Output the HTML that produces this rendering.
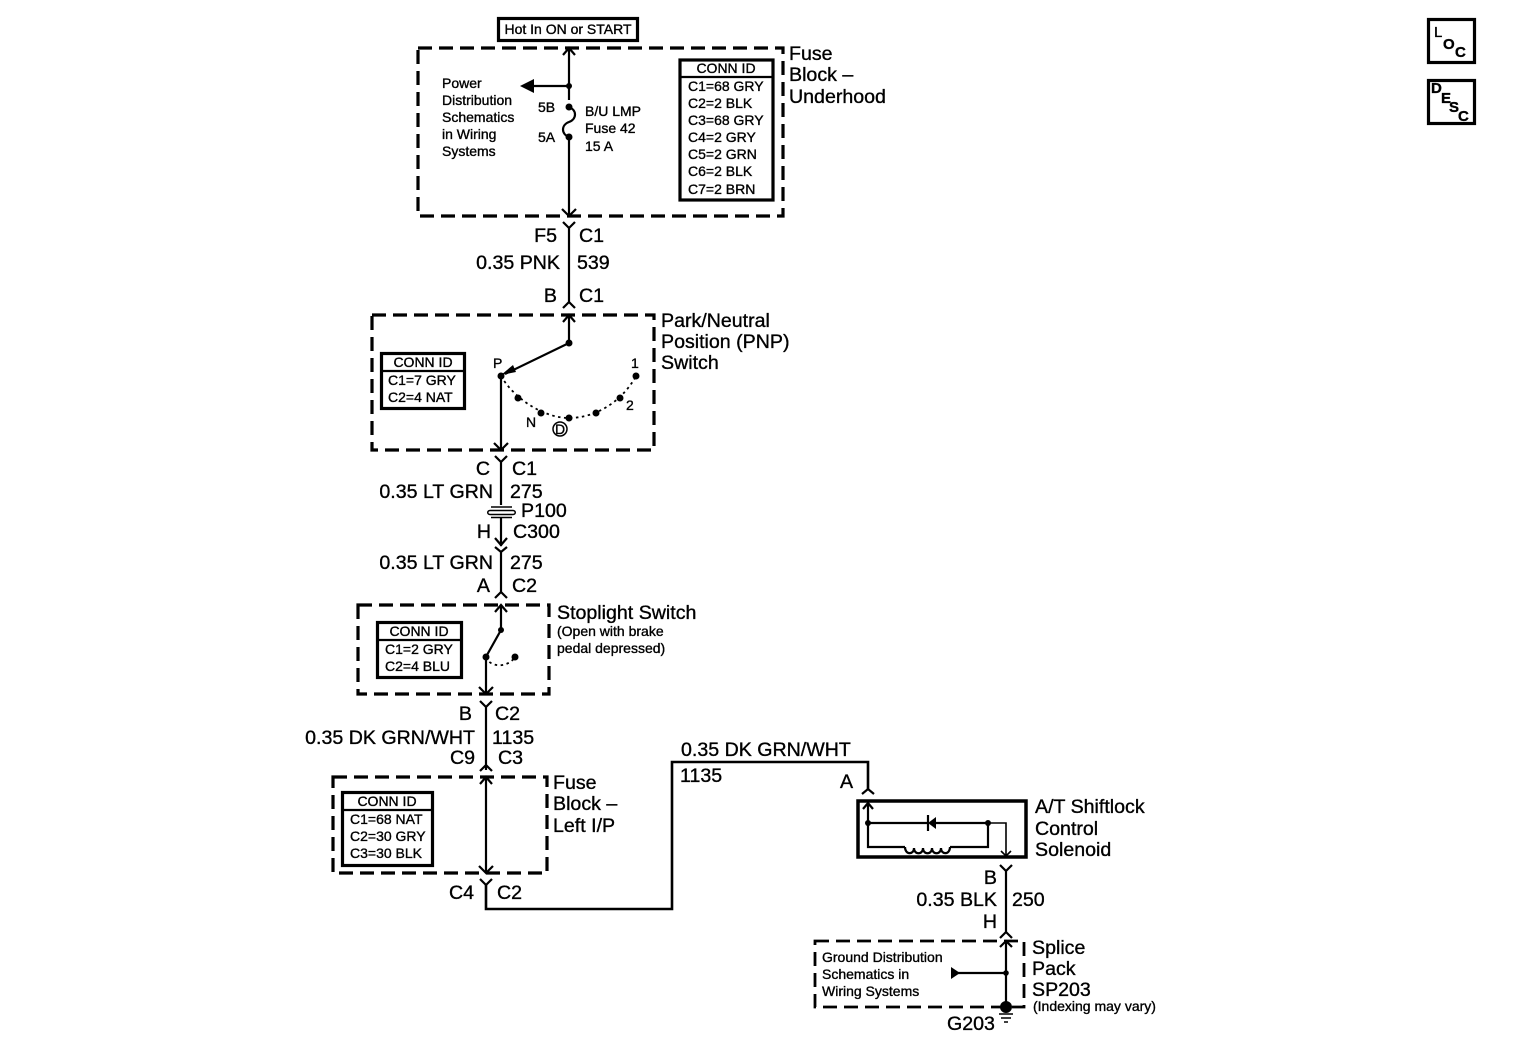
<!DOCTYPE html>
<html><head><meta charset="utf-8"><style>
html,body{margin:0;padding:0;background:#fff}
svg{display:block}
text{font-family:"Liberation Sans",sans-serif;fill:#000;stroke:#000;stroke-width:.35}
.l{font-size:19.6px}.s{font-size:14px}.e{text-anchor:end}.m{text-anchor:middle}
.w{fill:none;stroke:#000;stroke-width:2.2}
.d{fill:none;stroke:#000;stroke-width:3.2;stroke-dasharray:14 7}
.b{fill:none;stroke:#000;stroke-width:3.2}
.o{fill:none;stroke:#000;stroke-width:1.8;stroke-dasharray:2.5 3.5}
</style></head><body>
<svg width="1520" height="1054" viewBox="0 0 1520 1054" xmlns="http://www.w3.org/2000/svg">
<!-- Top -->
<rect class="b" x="498.500" y="18.500" width="139" height="22"/>
<text class="s m" x="568" y="34">Hot In ON or START</text>
<path class="d" d="M418 48H783V216H418Z"/>
<path class="w" d="M569 48V100M569 137V216M563 55L569 48L575 55M562 209L569 216L576 209M569 86H530"/>
<path d="M520 86L534 79V93Z"/>
<path class="w" d="M569 107C577 110 577 119 569 122C561 125 561 134 569 137"/>
<circle cx="569" cy="86" r="3"/><circle cx="569" cy="107" r="3.500"/><circle cx="569" cy="137" r="3.500"/>
<g class="s"><text x="442" y="88">Power</text><text x="442" y="105">Distribution</text><text x="442" y="122">Schematics</text><text x="442" y="139">in Wiring</text><text x="442" y="156">Systems</text>
<text x="538" y="112">5B</text><text x="538" y="142">5A</text>
<text x="585" y="116">B/U LMP</text><text x="585" y="133">Fuse 42</text><text x="585" y="151">15 A</text></g>
<rect class="b" x="680" y="60" width="93" height="140"/><path class="w" d="M680 77H773"/>
<g class="s"><text class="m" x="726" y="73">CONN ID</text><text x="688" y="91">C1=68 GRY</text><text x="688" y="108">C2=2 BLK</text><text x="688" y="125">C3=68 GRY</text><text x="688" y="142">C4=2 GRY</text><text x="688" y="159">C5=2 GRN</text><text x="688" y="176">C6=2 BLK</text><text x="688" y="194">C7=2 BRN</text></g>
<g class="l"><text x="789" y="60">Fuse</text><text x="789" y="81">Block –</text><text x="789" y="103">Underhood</text></g>
<!-- 539 -->
<path class="w" d="M569 228V303M563 222L569 228L575 222M563 308L569 302L575 308"/>
<g class="l"><text class="e" x="557" y="242">F5</text><text x="579" y="242">C1</text><text class="e" x="560" y="269">0.35 PNK</text><text x="577" y="269">539</text><text class="e" x="557" y="302">B</text><text x="579" y="302">C1</text></g>
<!-- PNP -->
<path class="d" d="M372 315H654V450H372Z"/>
<path class="w" d="M569 315V343M563 322L569 315L575 322M569 343L505 374M501 376V450M494 443L501 450L508 443"/>
<path d="M501 375L513 365L516 372Z"/>
<path class="o" d="M501 376C515 400 545 418 569 418C595 418 622 402 636 376"/>
<g><circle cx="569" cy="343" r="3.500"/><circle cx="501" cy="376" r="3.500"/><circle cx="518" cy="398" r="3.500"/><circle cx="541" cy="413" r="3.500"/><circle cx="569" cy="418" r="3.500"/><circle cx="596" cy="413" r="3.500"/><circle cx="620" cy="398" r="3.500"/><circle cx="636" cy="376" r="3.500"/></g>
<g class="s"><text x="493" y="368">P</text><text x="631" y="368">1</text><text x="626" y="410">2</text><text x="526" y="427">N</text><text class="m" x="560" y="434">D</text></g>
<circle cx="560" cy="429" r="7" fill="none" stroke="#000" stroke-width="1.500"/>
<rect class="b" x="381.500" y="353.500" width="83" height="55"/><path class="w" d="M381 371H465"/>
<g class="s"><text class="m" x="423" y="367">CONN ID</text><text x="388" y="385">C1=7 GRY</text><text x="388" y="402">C2=4 NAT</text></g>
<g class="l"><text x="661" y="327">Park/Neutral</text><text x="661" y="348">Position (PNP)</text><text x="661" y="369">Switch</text></g>
<!-- 275 -->
<path class="w" d="M501 462V546M495 456L501 462L507 456M495 538L501 545L507 538M495 547L501 552L507 547M501 552V592M495 598L501 592L507 598"/>
<rect x="487" y="505" width="29" height="13" fill="#fff"/>
<path d="M491 507H512M491 517.500H512M490 510.500H513C516 510.500 516 514.500 513 514.500H490C487 514.500 487 510.500 490 510.500Z" fill="none" stroke="#000" stroke-width="1.500"/>
<g class="l"><text class="e" x="490" y="475">C</text><text x="512" y="475">C1</text><text class="e" x="493" y="498">0.35 LT GRN</text><text x="510" y="498">275</text><text x="521" y="517">P100</text><text class="e" x="491" y="538">H</text><text x="513" y="538">C300</text><text class="e" x="493" y="569">0.35 LT GRN</text><text x="510" y="569">275</text><text class="e" x="490" y="592">A</text><text x="512" y="592">C2</text></g>
<!-- Stoplight -->
<path class="d" d="M358 605H549V694H358Z"/>
<path class="w" d="M501 605V630M495 612L501 605L507 612M501 630L487 655M486 657V694M479 687L486 694L493 687"/>
<path class="o" d="M486 657C490 668 508 668 515 657"/>
<circle cx="501" cy="630" r="3"/><circle cx="486" cy="657" r="3.500"/><circle cx="515" cy="657" r="3.500"/>
<rect class="b" x="377.500" y="622.500" width="84" height="55"/><path class="w" d="M377 640H462"/>
<g class="s"><text class="m" x="419" y="636">CONN ID</text><text x="385" y="654">C1=2 GRY</text><text x="385" y="671">C2=4 BLU</text></g>
<text class="l" x="557" y="619">Stoplight Switch</text>
<g class="s"><text x="557" y="636">(Open with brake</text><text x="557" y="653">pedal depressed)</text></g>
<!-- 1135 -->
<path class="w" d="M486 707V770M480 701L486 707L492 701M480 771L486 765L492 771"/>
<g class="l"><text class="e" x="472" y="720">B</text><text x="495" y="720">C2</text><text class="e" x="475" y="744">0.35 DK GRN/WHT</text><text x="492" y="744">1135</text><text class="e" x="475" y="764">C9</text><text x="498" y="764">C3</text></g>
<!-- Fuse block left -->
<path class="d" d="M333 777H547V873H333Z"/>
<path class="w" d="M486 777V873M480 784L486 777L492 784M479 866L486 873L493 866"/>
<rect class="b" x="342.500" y="792.500" width="90" height="73"/><path class="w" d="M342 810H433"/>
<g class="s"><text class="m" x="387" y="806">CONN ID</text><text x="350" y="824">C1=68 NAT</text><text x="350" y="841">C2=30 GRY</text><text x="350" y="858">C3=30 BLK</text></g>
<g class="l"><text x="553" y="789">Fuse</text><text x="553" y="810">Block –</text><text x="553" y="832">Left I/P</text></g>
<path class="w" d="M480 879L486 885L492 879"/>
<path class="w" style="stroke-width:2.600" d="M486 885V909H672V762H868V789"/>
<path class="w" d="M862 794L868 789L874 794"/>
<g class="l"><text class="e" x="474" y="899">C4</text><text x="497" y="899">C2</text><text x="681" y="756">0.35 DK GRN/WHT</text><text x="680" y="782">1135</text><text x="840" y="788">A</text></g>
<!-- Solenoid -->
<rect x="858" y="801" width="168" height="56" fill="none" stroke="#000" stroke-width="3.500"/>
<path class="w" d="M868 803V847H905M950 847H988V823M868 823H928M936 823H988M863 809L868 803L873 809"/>
<path class="w" style="stroke-width:1.600" d="M988 823H1006V856M1001 851L1006 856L1011 851"/>
<path class="w" d="M905 847C905 855 914 855 914 848C914 855 923 855 923 848C923 855 932 855 932 848C932 855 941 855 941 848C941 855 950 855 950 847"/>
<path d="M928 823L936 817V829Z"/><path class="w" d="M928 815V831"/>
<circle cx="868" cy="823" r="3"/><circle cx="988" cy="823" r="3"/>
<g class="l"><text x="1035" y="813">A/T Shiftlock</text><text x="1035" y="835">Control</text><text x="1035" y="856">Solenoid</text></g>
<!-- 250 -->
<path class="w" d="M1006 871V933M1000 865L1006 871L1012 865M1000 938L1006 932L1012 938"/>
<g class="l"><text class="e" x="997" y="884">B</text><text class="e" x="997" y="906">0.35 BLK</text><text x="1012" y="906">250</text><text class="e" x="997" y="928">H</text></g>
<!-- Splice -->
<path class="d" style="stroke-width:2.800" d="M815 941H1024V1007H815Z"/>
<path class="w" d="M1006 941V1007M1000 947L1006 941L1012 947M1006 973H955"/>
<path d="M951 967L960 973L951 979Z"/>
<circle cx="1006" cy="973" r="2.800"/><circle cx="1006" cy="1007" r="6"/>
<path class="w" style="stroke-width:1.500" d="M999 1014H1013M1001 1018H1011M1004 1022H1008"/>
<g class="s"><text x="822" y="962">Ground Distribution</text><text x="822" y="979">Schematics in</text><text x="822" y="996">Wiring Systems</text><text x="1033" y="1011">(Indexing may vary)</text></g>
<g class="l"><text x="1032" y="954">Splice</text><text x="1032" y="975">Pack</text><text x="1032" y="996">SP203</text><text x="947" y="1030">G203</text></g>
<!-- LOC / DESC -->
<rect class="b" x="1428.500" y="19.500" width="46" height="43"/>
<rect class="b" x="1428.500" y="80.500" width="46" height="43"/>
<g class="s" style="font-size:15px;font-weight:bold"><text x="1434" y="37" style="font-weight:normal">L</text><text x="1443" y="49">O</text><text x="1455" y="57">C</text>
<text x="1431" y="93">D</text><text x="1441" y="103">E</text><text x="1449" y="112">S</text><text x="1458" y="121">C</text></g>
</svg>
</body></html>
